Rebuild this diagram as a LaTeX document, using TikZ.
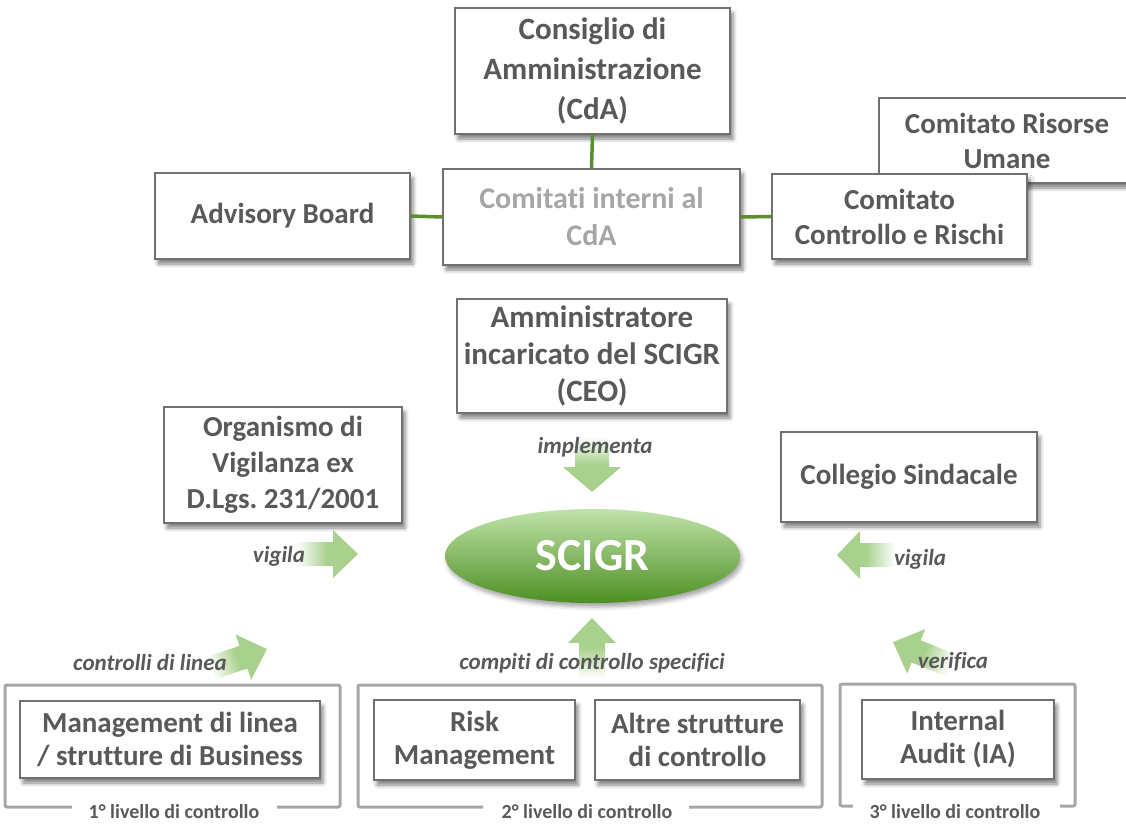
\documentclass[tikz,border=0pt]{standalone}
\usepackage{fontspec}
\setmainfont{Carlito}[Ligatures=NoCommon]
\usetikzlibrary{shapes.geometric,shadows,shadows.blur}
\frenchspacing
\definecolor{txt}{HTML}{595959}
\definecolor{lgray}{HTML}{A6A6A6}
\definecolor{bord}{HTML}{707070}
\definecolor{lgreen}{HTML}{A9D18E}
\definecolor{dgreen}{HTML}{5A8F2E}
\definecolor{egtop}{HTML}{BFE3A9}
\definecolor{egbot}{HTML}{4E8F23}
\tikzset{
  box/.style={draw=bord, line width=1.2pt, fill=white, text=txt, align=center,
    inner sep=0pt, font=\bfseries\fontsize{29}{35}\selectfont,
    blur shadow={shadow xshift=3pt, shadow yshift=-5pt, shadow blur radius=4pt, shadow opacity=50}},
  link/.style={draw=dgreen, line width=3.5pt},
  framebox/.style={draw=lgray, line width=3pt, rounded corners=2pt},
  lvl/.style={text=txt, font=\bfseries\fontsize{20}{24}\selectfont, inner sep=0pt},
  act/.style={text=txt, font=\bfseries\itshape\fontsize{23}{27}\selectfont, inner sep=0pt},
}
% tip x, tip y, direction angle, length, head length, head half width, shaft half width, shading angle
\newcommand{\garr}[8]{%
  \begin{scope}[shift={(#1,#2)}, rotate=#3]
    \path[top color=white, bottom color=lgreen, middle color=lgreen, shading angle=#8]
      (-#4,-#7) -- (-#5,-#7) -- (-#5,-#6) -- (0,0) -- (-#5,#6) -- (-#5,#7) -- (-#4,#7) -- cycle;
  \end{scope}}
\begin{document}
\begin{tikzpicture}[x=1pt,y=-1pt]
\useasboundingbox (0,0) rectangle (1126,825);

% top level
\node[box, minimum width=275pt, minimum height=126pt, font=\bfseries\fontsize{31}{40}\selectfont] (cda) at (592.5,71) {Consiglio di\\Amministrazione\\(CdA)};
\node[box, minimum width=297pt, minimum height=96pt, text=lgray, font=\bfseries\fontsize{30}{37}\selectfont] (com) at (591.5,217) {Comitati interni al\\CdA};
\node[box, minimum width=255pt, minimum height=86pt] (adv) at (282.5,216) {Advisory Board};
\node[box, minimum width=256pt, minimum height=85pt] (cru) at (1007,140.5) {Comitato Risorse\\Umane};
\node[box, minimum width=255pt, minimum height=85pt] (ccr) at (899.5,216.5) {Comitato\\Controllo e Rischi};

\draw[link] (cda.south) -- (com.north);
\draw[link] (adv.east) -- (com.west);
\draw[link] (com.east) -- (ccr.west);

% middle
\node[box, minimum width=270pt, minimum height=114pt, font=\bfseries\fontsize{31}{37}\selectfont] (amm) at (592,356) {Amministratore\\incaricato del SCIGR\\(CEO)};
\node[box, minimum width=238pt, minimum height=116pt, font=\bfseries\fontsize{29}{36}\selectfont] (odv) at (283,465) {Organismo di\\Vigilanza ex\\D.Lgs. 231/2001};
\node[box, minimum width=256pt, minimum height=90pt] (cs) at (909,477) {Collegio Sindacale};

\node[ellipse, minimum width=295pt, minimum height=94pt, inner sep=0pt, top color=egtop, bottom color=egbot,
  text=white, font=\bfseries\fontsize{46}{50}\selectfont,
  blur shadow={shadow xshift=2pt, shadow yshift=-4pt, shadow blur radius=4pt, shadow opacity=35}] (scigr) at (592.5,556) {SCIGR};

% arrows
\garr{592}{492}{-90}{55}{25}{29}{17}{0}
\garr{358}{554}{0}{62}{25}{24}{12}{90}
\garr{837}{555}{180}{58}{23}{24}{12}{270}
\garr{592}{618}{90}{60}{25}{24}{13}{180}
\garr{267}{649}{19}{60}{25}{24}{12}{109}
\garr{893}{642}{158}{62}{25}{24}{12}{248}

\node[act] (limp) at (595,447) {implementa};
\node[act] (lvig1) at (279,556) {vigila};
\node[act] (lvig2) at (920,559) {vigila};
\node[act] (lcomp) at (592,663) {compiti di controllo specifici};
\node[act] (lctrl) at (150,663) {controlli di linea};
\node[act] (lver) at (953,662) {verifica};

% bottom groups
\draw[framebox] (72,807) -| (5,685) -| (340,807) -- (277,807);
\draw[framebox] (483,807) -| (358,685) -| (822,807) -- (689,807);
\draw[framebox] (853,806) -| (840,684) -| (1075,806) -- (1060,806);

\node[box, minimum width=300pt, minimum height=77pt, font=\bfseries\fontsize{29}{33}\selectfont] (mgmt) at (170,739.5) {Management di linea\\/ strutture di Business};
\node[box, minimum width=201pt, minimum height=80pt, font=\bfseries\fontsize{29}{33}\selectfont] (risk) at (474.5,740) {Risk\\Management};
\node[box, minimum width=205pt, minimum height=80pt, font=\bfseries\fontsize{29}{33}\selectfont] (altre) at (697.5,740) {Altre strutture\\di controllo};
\node[box, minimum width=192pt, minimum height=79pt, font=\bfseries\fontsize{29}{33}\selectfont] (ia) at (958,739.5) {Internal\\Audit (IA)};

\node[lvl] (l1) at (174,812) {1° livello di controllo};
\node[lvl] (l2) at (587,812) {2° livello di controllo};
\node[lvl] (l3) at (955,812) {3° livello di controllo};
\end{tikzpicture}
\end{document}
